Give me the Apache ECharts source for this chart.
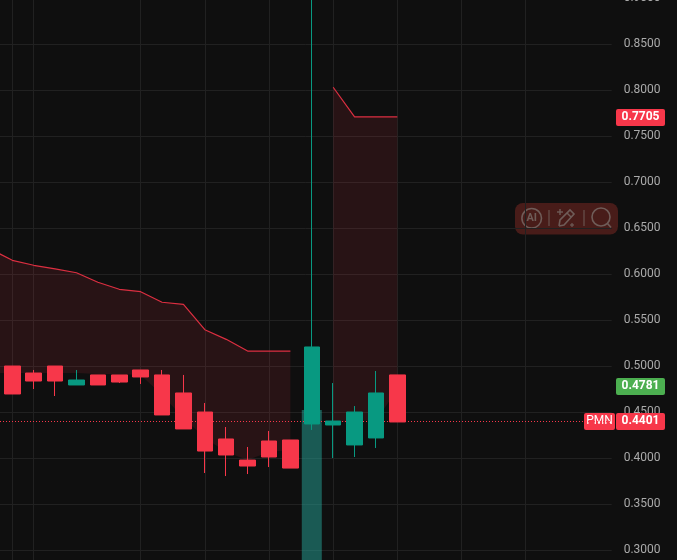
<!DOCTYPE html>
<html>
<head>
<meta charset="utf-8">
<title>PMN</title>
<script src="https://cdn.jsdelivr.net/npm/echarts@6/dist/echarts.min.js"></script>
<style>
  html, body { margin: 0; padding: 0; background: #0f0f0f; overflow: hidden; }
  #chart { width: 677px; height: 560px; }
</style>
</head>
<body>
<div id="chart"></div>
<script>
// Candles (index 0 is the first visible candle)
const candleIdx = [0, 1, 2, 3, 4, 5, 6, 7, 8, 9, 10, 11, 12, 13, 14, 15, 16, 17, 18];
const opens  = [0.5003, 0.4927, 0.5003, 0.4797, 0.4906, 0.4906, 0.4960, 0.4906, 0.4710, 0.4503, 0.4210, 0.3981, 0.4188, 0.4199, 0.4373, 0.4362, 0.4145, 0.4221, 0.4906];
const closes = [0.4699, 0.4840, 0.4840, 0.4851, 0.4797, 0.4829, 0.4884, 0.4471, 0.4319, 0.4079, 0.4036, 0.3916, 0.4014, 0.3894, 0.5210, 0.4405, 0.4503, 0.4710, 0.4395];
const lows   = [0.4699, 0.4753, 0.4677, 0.4797, 0.4797, 0.4818, 0.4808, 0.4471, 0.4319, 0.3840, 0.3807, 0.3829, 0.3905, 0.3894, 0.4308, 0.4003, 0.4014, 0.4112, 0.4395];
const highs  = [0.5003, 0.4960, 0.5003, 0.4960, 0.4906, 0.4906, 0.4960, 0.4960, 0.4906, 0.4601, 0.4340, 0.4123, 0.4297, 0.4199, 1.0000, 0.4818, 0.4568, 0.4949, 0.4906];

// Red band, first stretch
const bandAIdx   = [-1, 0, 1, 2, 3, 4, 5, 6, 7, 8, 9, 10, 11, 12, 13];
const bandAUpper = [0.6272, 0.6152, 0.6098, 0.6058, 0.6017, 0.5913, 0.5837, 0.5811, 0.5696, 0.5674, 0.5398, 0.5293, 0.5166, 0.5166, 0.5166];
const bandALower = [0.4927, 0.4927, 0.4927, 0.4927, 0.4927, 0.4916, 0.4916, 0.4906, 0.4688, 0.4438, 0.4221, 0.4068, 0.3981, 0.4068, 0.4090];

// Red band, second stretch
const bandBIdx   = [15, 16, 17, 18];
const bandBUpper = [0.8033, 0.7712, 0.7712, 0.7712];
const bandBLower = [0.4384, 0.4405, 0.4416, 0.4742];

// Translucent bar behind the big candle
const barIdx = [14];
const barValues = [0.4525];

const timeGridIdx = [1, 6, 9, 12, 15, 18, 21, 24];
const lastPrice = 0.4401;
const greenTag = 0.4781;
const redTag = 0.7705;
const symbolName = 'PMN';

const UP = '#089981';
const DOWN = '#f7374a';
const GRID = '#212121';

const priceAxisBase = {
    type: 'value',
    position: 'right',
    min: 0.25,
    max: 0.9
};

// fill between two price lines, plus the red line on top
function bandSeries(idx, upper, lower) {
    return [
        {
            type: 'custom',
            data: idx.map((x, i) => [x, upper[i], lower[i]]),
            encode: { x: 0, y: [1, 2] },
            silent: true,
            z: 2,
            renderItem: function (params, api) {
                if (params.dataIndex !== 0) return;
                const top = idx.map((x, i) => api.coord([x, upper[i]]));
                const bottom = idx.map((x, i) => api.coord([x, lower[i]])).reverse();
                return {
                    type: 'polygon',
                    shape: { points: top.concat(bottom) },
                    style: { fill: 'rgba(247,54,72,0.11)' }
                };
            }
        },
        {
            type: 'line',
            data: idx.map((x, i) => [x, upper[i]]),
            symbol: 'none',
            silent: true,
            lineStyle: { color: '#dc2f41', width: 1.2 },
            z: 2
        }
    ];
}

const chart = echarts.init(document.getElementById('chart'), null, { renderer: 'canvas' });

const iconColor = '#6f5c58';
const iconLine = { stroke: iconColor, lineWidth: 1.6, fill: 'transparent' };

chart.setOption({
    animation: false,
    backgroundColor: '#0f0f0f',
    textStyle: { fontFamily: 'Roboto, Arial, sans-serif' },
    grid: { left: 0, top: -1.7, width: 611.7, height: 598, containLabel: false, outerBoundsMode: 'none' },
    xAxis: {
        type: 'value',
        min: -0.575,
        max: 28.02,
        axisLine: { show: false },
        axisTick: { show: false, customValues: timeGridIdx },
        axisLabel: { show: false },
        splitLine: { show: true, lineStyle: { color: GRID, width: 1 } }
    },
    yAxis: [
        Object.assign({}, priceAxisBase, {
            interval: 0.05,
            axisLine: { show: true, lineStyle: { color: GRID } },
            axisTick: { show: false },
            axisLabel: {
                margin: 12,
                color: '#aaaaaa',
                fontSize: 12,
                padding: [2, 0, 0, 0],
                fontFamily: 'Roboto, Arial, sans-serif',
                formatter: v => v.toFixed(4)
            },
            splitLine: { show: true, lineStyle: { color: GRID, width: 1 } }
        }),
        // price tags on the scale
        Object.assign({}, priceAxisBase, {
            axisLine: { show: false },
            axisTick: { show: false },
            splitLine: { show: false },
            axisLabel: {
                margin: 4.3,
                hideOverlap: false,
                customValues: [redTag, greenTag, lastPrice],
                formatter: v => (v === greenTag ? '{g|' : '{r|') + v.toFixed(4) + '}',
                rich: {
                    r: { backgroundColor: DOWN, color: '#fff', fontWeight: 'bold', fontSize: 12, width: 49, height: 17, lineHeight: 17, align: 'center', borderRadius: 2 },
                    g: { backgroundColor: '#4caf50', color: '#fff', fontWeight: 'bold', fontSize: 12, width: 49, height: 17, lineHeight: 17, align: 'center', borderRadius: 2 }
                }
            }
        }),
        // symbol tag, sits left of the scale line
        Object.assign({}, priceAxisBase, {
            axisLine: { show: false },
            axisTick: { show: false },
            splitLine: { show: false },
            axisLabel: {
                inside: true,
                margin: -3.3,
                hideOverlap: false,
                customValues: [lastPrice],
                formatter: () => '{s|' + symbolName + '}',
                rich: {
                    s: { backgroundColor: DOWN, color: '#fff', fontSize: 12, width: 31, height: 17, lineHeight: 17, align: 'center', borderRadius: 2 }
                }
            }
        })
    ],
    series: [
        ...bandSeries(bandAIdx, bandAUpper, bandALower),
        ...bandSeries(bandBIdx, bandBUpper, bandBLower),
        {
            type: 'bar',
            data: barIdx.map((x, i) => [x, barValues[i]]),
            barWidth: 20,
            silent: true,
            itemStyle: { color: 'rgba(38,166,154,0.5)' },
            z: 3
        },
        {
            type: 'candlestick',
            data: candleIdx.map((x, i) => [x, opens[i], closes[i], lows[i], highs[i]]),
            barWidth: 16,
            itemStyle: {
                color: UP,
                color0: DOWN,
                borderColor: UP,
                borderColor0: DOWN,
                borderWidth: 1
            },
            z: 5,
            markLine: {
                silent: true,
                symbol: 'none',
                animation: false,
                label: { show: false },
                lineStyle: { color: DOWN, type: [1, 2], width: 1, opacity: 1 },
                data: [{ yAxis: lastPrice }]
            }
        }
    ],
    // toolbar pill floating over the plot
    graphic: [
        {
            type: 'group',
            z: 50,
            children: [
                { type: 'rect', shape: { x: 515, y: 203, width: 103, height: 31.5, r: 8 }, style: { fill: 'rgba(120,40,34,0.55)' } },
                { type: 'circle', shape: { cx: 531.7, cy: 218.3, r: 9.8 }, style: iconLine },
                { type: 'text', x: 531.7, y: 218.5, style: { text: 'AI', fill: iconColor, font: 'bold 11px Roboto, Arial, sans-serif', align: 'center', verticalAlign: 'middle' } },
                { type: 'line', shape: { x1: 549, y1: 210, x2: 549, y2: 226 }, style: { stroke: iconColor, lineWidth: 1 } },
                { type: 'polyline', shape: { points: [[559, 226], [560, 220], [570, 210], [574, 214], [564, 225], [559, 226]] }, style: iconLine },
                { type: 'line', shape: { x1: 567, y1: 213, x2: 571, y2: 217 }, style: { stroke: iconColor, lineWidth: 1.4 } },
                { type: 'line', shape: { x1: 560, y1: 209, x2: 560, y2: 215 }, style: { stroke: iconColor, lineWidth: 1.4 } },
                { type: 'line', shape: { x1: 557, y1: 212, x2: 563, y2: 212 }, style: { stroke: iconColor, lineWidth: 1.4 } },
                { type: 'line', shape: { x1: 572, y1: 223, x2: 572, y2: 227 }, style: { stroke: iconColor, lineWidth: 1.2 } },
                { type: 'line', shape: { x1: 570, y1: 225, x2: 574, y2: 225 }, style: { stroke: iconColor, lineWidth: 1.2 } },
                { type: 'line', shape: { x1: 584, y1: 210, x2: 584, y2: 226 }, style: { stroke: iconColor, lineWidth: 1 } },
                { type: 'circle', shape: { cx: 601, cy: 217, r: 9 }, style: iconLine },
                { type: 'line', shape: { x1: 607.5, y1: 223.5, x2: 611, y2: 227.5 }, style: { stroke: iconColor, lineWidth: 1.6 } }
            ]
        }
    ]
});
</script>
</body>
</html>
